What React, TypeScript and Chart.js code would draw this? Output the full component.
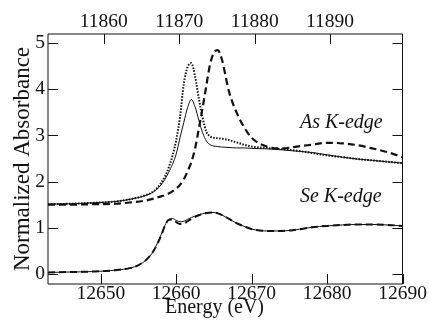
import React, { useEffect, useRef } from "react";
import { Chart, registerables } from "chart.js";

Chart.register(...registerables);

// ---- data ----
const asEnergy = [12643, 12646, 12649, 12652, 12654, 12656, 12657, 12658, 12659, 12660, 12660.5, 12661, 12661.5, 12662, 12662.5, 12663, 12663.5, 12664, 12664.5, 12665, 12665.5, 12666, 12667, 12668, 12669, 12670, 12672, 12674, 12676, 12678, 12680, 12682, 12684, 12686, 12688, 12690];
const asSolid = [1.51, 1.52, 1.54, 1.57, 1.62, 1.70, 1.78, 1.93, 2.20, 2.60, 2.95, 3.28, 3.60, 3.78, 3.62, 3.33, 3.06, 2.88, 2.80, 2.77, 2.76, 2.75, 2.74, 2.73, 2.73, 2.72, 2.71, 2.69, 2.66, 2.63, 2.58, 2.53, 2.49, 2.46, 2.43, 2.40];
const asDotted = [1.51, 1.52, 1.54, 1.57, 1.62, 1.71, 1.79, 1.97, 2.30, 2.90, 3.40, 4.12, 4.48, 4.57, 4.28, 3.80, 3.38, 3.08, 2.98, 2.95, 2.94, 2.93, 2.90, 2.85, 2.80, 2.76, 2.73, 2.70, 2.67, 2.62, 2.57, 2.53, 2.49, 2.46, 2.43, 2.40];
const asDashed = [1.50, 1.50, 1.51, 1.52, 1.55, 1.59, 1.63, 1.68, 1.74, 1.85, 1.93, 2.05, 2.22, 2.42, 2.72, 3.15, 3.60, 4.09, 4.55, 4.80, 4.85, 4.68, 3.95, 3.50, 3.18, 2.95, 2.76, 2.72, 2.76, 2.80, 2.84, 2.83, 2.79, 2.72, 2.64, 2.53];

const seEnergy = [12643, 12646, 12649, 12652, 12654, 12655, 12656, 12657, 12658, 12658.5, 12659, 12659.5, 12660, 12660.5, 12661, 12661.5, 12662, 12663, 12664, 12665, 12666, 12667, 12668, 12669, 12670, 12672, 12674, 12676, 12678, 12680, 12682, 12684, 12686, 12688, 12690];
const seSolid = [0.03, 0.04, 0.05, 0.08, 0.13, 0.19, 0.30, 0.50, 0.85, 1.05, 1.18, 1.20, 1.16, 1.13, 1.14, 1.18, 1.22, 1.28, 1.32, 1.33, 1.28, 1.19, 1.10, 1.03, 0.97, 0.93, 0.93, 0.96, 1.01, 1.04, 1.06, 1.07, 1.07, 1.06, 1.04];
const seDashed = [0.03, 0.04, 0.05, 0.08, 0.13, 0.19, 0.30, 0.50, 0.83, 1.04, 1.17, 1.18, 1.12, 1.08, 1.09, 1.14, 1.19, 1.27, 1.32, 1.33, 1.28, 1.19, 1.10, 1.03, 0.97, 0.93, 0.93, 0.96, 1.01, 1.04, 1.06, 1.07, 1.07, 1.06, 1.04];

const bottomTicks = [12650, 12660, 12670, 12680, 12690];
const topTicks = [11860, 11870, 11880, 11890];
const yTicks = [0, 1, 2, 3, 4, 5];

const annotationLabels = ["As K-edge", "Se K-edge"];
const annotationX = [12676.4, 12676.4];
const annotationY = [3.17, 1.56];

const xTitle = "Energy (eV)";
const yTitle = "Normalized Absorbance";

const FONT = '"Liberation Serif"';

function pts(xs: number[], ys: number[]) {
  return xs.map((x, i) => ({ x, y: ys[i] }));
}

const framePlugin = {
  id: "frame",
  afterDatasetsDraw(chart: any) {
    const { ctx, chartArea, scales } = chart;
    const { left, right, top, bottom } = chartArea;
    const L = 10;
    ctx.save();
    ctx.strokeStyle = "#111";
    ctx.lineWidth = 1;
    ctx.beginPath();
    ctx.rect(left, top, right - left, bottom - top);
    for (const t of scales.x.ticks) {
      const p = Math.round(scales.x.getPixelForValue(t.value)) + 0.5;
      ctx.moveTo(p, bottom);
      ctx.lineTo(p, bottom - L);
    }
    for (const t of scales.x2.ticks) {
      const p = Math.round(scales.x2.getPixelForValue(t.value)) + 0.5;
      ctx.moveTo(p, top);
      ctx.lineTo(p, top + L);
    }
    for (const t of scales.y.ticks) {
      const p = Math.round(scales.y.getPixelForValue(t.value)) + 0.5;
      ctx.moveTo(left, p);
      ctx.lineTo(left + L, p);
      ctx.moveTo(right, p);
      ctx.lineTo(right - L, p);
    }
    ctx.stroke();

    ctx.fillStyle = "#111";
    ctx.font = "italic 20px " + FONT;
    ctx.textAlign = "left";
    ctx.textBaseline = "alphabetic";
    annotationLabels.forEach((s, i) => {
      ctx.fillText(s, scales.x.getPixelForValue(annotationX[i]), scales.y.getPixelForValue(annotationY[i]));
    });

    // x-axis title, centred on the whole figure as in the reference
    ctx.font = "20px " + FONT;
    ctx.textAlign = "center";
    ctx.textBaseline = "middle";
    ctx.fillText(xTitle, chart.width / 2, scales.x.bottom - 14);
    ctx.restore();
  },
};

export default function App() {
  const ref = useRef<HTMLCanvasElement | null>(null);
  useEffect(() => {
    if (!ref.current) return;
    Chart.defaults.font.family = FONT;
    const tickFont = { family: FONT, size: 19.5, lineHeight: 1 };
    const chart = new Chart(ref.current, {
      type: "line",
      data: {
        datasets: [
          { data: pts(asEnergy, asSolid), borderColor: "#111", borderWidth: 1, pointRadius: 0, cubicInterpolationMode: "monotone", xAxisID: "x", yAxisID: "y" },
          { data: pts(asEnergy, asDotted), borderColor: "#111", borderWidth: 2, borderDash: [1.5, 1.5], pointRadius: 0, cubicInterpolationMode: "monotone", xAxisID: "x", yAxisID: "y" },
          { data: pts(asEnergy, asDashed), borderColor: "#111", borderWidth: 2.2, borderDash: [7, 4], pointRadius: 0, cubicInterpolationMode: "monotone", xAxisID: "x", yAxisID: "y" },
          { data: pts(seEnergy, seSolid), borderColor: "#111", borderWidth: 1, pointRadius: 0, cubicInterpolationMode: "monotone", xAxisID: "x", yAxisID: "y" },
          { data: pts(seEnergy, seDashed), borderColor: "#111", borderWidth: 2, borderDash: [7, 4], pointRadius: 0, cubicInterpolationMode: "monotone", xAxisID: "x", yAxisID: "y" },
        ] as any,
      },
      options: {
        animation: false,
        responsive: false,
        maintainAspectRatio: false,
        layout: { padding: { right: 26.5, left: 0, top: 0, bottom: 0 } },
        plugins: { legend: { display: false }, tooltip: { enabled: false } },
        scales: {
          x: {
            type: "linear",
            position: "bottom",
            min: 12643,
            max: 12690,
            grid: { display: false, drawTicks: false },
            border: { display: false },
            afterBuildTicks: (s: any) => { s.ticks = bottomTicks.map((v) => ({ value: v })); },
            afterFit: (s: any) => { s.height = 38; },
            ticks: { color: "#111", font: tickFont, padding: 0, maxRotation: 0, autoSkip: false, callback: (v: any) => String(v) },
            title: { display: false },
          },
          x2: {
            type: "linear",
            position: "top",
            min: 11852.6,
            max: 11899.6,
            grid: { display: false, drawTicks: false },
            border: { display: false },
            afterBuildTicks: (s: any) => { s.ticks = topTicks.map((v) => ({ value: v })); },
            afterFit: (s: any) => { s.height = 34; },
            ticks: { color: "#111", font: tickFont, padding: 2, maxRotation: 0, autoSkip: false, callback: (v: any) => String(v) },
          },
          y: {
            type: "linear",
            position: "left",
            min: -0.22,
            max: 5.2,
            grid: { display: false, drawTicks: false },
            border: { display: false },
            afterBuildTicks: (s: any) => { s.ticks = yTicks.map((v) => ({ value: v })); },
            afterFit: (s: any) => { s.width = 48; },
            ticks: { color: "#111", font: tickFont, padding: 3, autoSkip: false, callback: (v: any) => String(v) },
            title: { display: true, text: yTitle, color: "#111", font: { family: FONT, size: 23, lineHeight: 1.2 }, padding: { top: 9, bottom: 0 } },
          },
        },
      } as any,
      plugins: [framePlugin],
    });
    return () => chart.destroy();
  }, []);
  return (
    <div style={{ position: "absolute", left: 0, top: 0, width: 429, height: 322, background: "#fff" }}>
      <canvas ref={ref} width={429} height={322} style={{ width: 429, height: 322 }} />
    </div>
  );
}
